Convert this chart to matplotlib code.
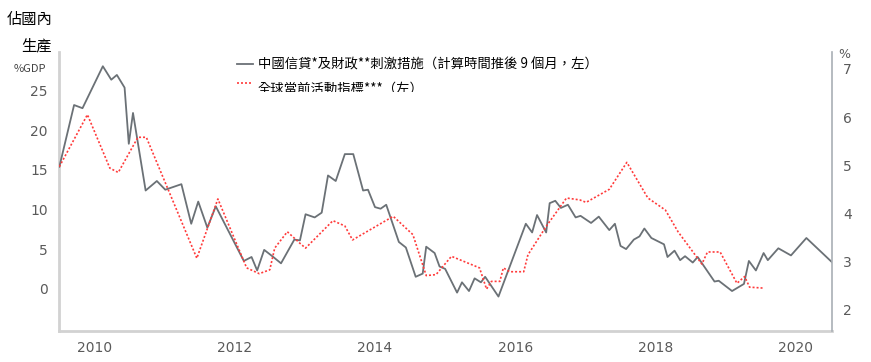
import matplotlib
matplotlib.use('Agg')
import matplotlib.pyplot as plt
from matplotlib.lines import Line2D
from matplotlib.transforms import Bbox

plt.rcParams['font.family'] = ['Noto Sans CJK TC', 'DejaVu Sans']

# 中國信貸及財政刺激措施 (左軸, %GDP)
credit_x = [2009.50, 2009.71, 2009.83, 2010.12, 2010.24, 2010.32, 2010.43, 2010.49, 2010.55,
            2010.73, 2010.89, 2011.01, 2011.24, 2011.38, 2011.48, 2011.61, 2011.73, 2012.13,
            2012.24, 2012.32, 2012.42, 2012.55, 2012.66, 2012.85, 2012.93, 2013.01, 2013.14,
            2013.24, 2013.33, 2013.44, 2013.57, 2013.69, 2013.83, 2013.90, 2014.00, 2014.08,
            2014.16, 2014.34, 2014.44, 2014.58, 2014.68, 2014.73, 2014.85, 2014.92, 2015.00,
            2015.17, 2015.24, 2015.34, 2015.42, 2015.51, 2015.57, 2015.76, 2016.15, 2016.24,
            2016.31, 2016.44, 2016.49, 2016.57, 2016.65, 2016.75, 2016.86, 2016.93, 2017.08,
            2017.19, 2017.34, 2017.42, 2017.50, 2017.58, 2017.69, 2017.77, 2017.84, 2017.94,
            2018.12, 2018.17, 2018.27, 2018.35, 2018.42, 2018.53, 2018.60, 2018.84, 2018.90,
            2019.09, 2019.26, 2019.33, 2019.43, 2019.54, 2019.60, 2019.75, 2019.93, 2020.15,
            2020.52]
credit_y = [15.4, 23.2, 22.8, 28.1, 26.4, 27.0, 25.4, 18.3, 22.2,
            12.4, 13.6, 12.5, 13.2, 8.2, 11.0, 7.7, 10.4, 3.5,
            4.0, 2.3, 4.9, 4.0, 3.2, 6.2, 6.1, 9.4, 9.0,
            9.6, 14.3, 13.6, 17.0, 17.0, 12.4, 12.5, 10.3, 10.1,
            10.6, 5.9, 5.2, 1.5, 1.9, 5.3, 4.5, 2.8, 2.5,
            -0.5, 0.8, -0.3, 1.3, 0.8, 1.5, -1.0, 8.2, 7.1,
            9.3, 7.1, 10.8, 11.1, 10.2, 10.6, 9.0, 9.2, 8.3,
            9.1, 7.4, 8.2, 5.4, 5.0, 6.2, 6.6, 7.6, 6.4,
            5.6, 4.0, 4.8, 3.6, 4.1, 3.3, 4.0, 0.9, 1.0,
            -0.3, 0.6, 3.5, 2.3, 4.5, 3.6, 5.1, 4.2, 6.4,
            3.3]

# 全球當前活動指標 (右軸, %)
activity_x = [2009.50, 2009.90, 2010.22, 2010.34, 2010.62, 2010.74, 2011.46, 2011.76, 2012.17,
              2012.35, 2012.50, 2012.57, 2012.75, 2012.93, 2013.01, 2013.40, 2013.57, 2013.68,
              2014.26, 2014.54, 2014.73, 2014.87, 2015.09, 2015.49, 2015.59, 2015.66, 2015.78,
              2015.83, 2015.92, 2016.12, 2016.18, 2016.44, 2016.73, 2016.92, 2017.01, 2017.34,
              2017.59, 2017.89, 2018.14, 2018.32, 2018.66, 2018.74, 2018.92, 2019.16, 2019.27,
              2019.34, 2019.54]
activity_y = [4.97, 6.05, 4.94, 4.85, 5.58, 5.58, 3.07, 4.30, 2.87,
              2.75, 2.83, 3.28, 3.62, 3.38, 3.28, 3.85, 3.74, 3.45,
              3.94, 3.56, 2.71, 2.73, 3.11, 2.87, 2.43, 2.59, 2.59,
              2.87, 2.79, 2.79, 3.14, 3.73, 4.32, 4.28, 4.23, 4.50,
              5.06, 4.32, 4.07, 3.62, 2.95, 3.20, 3.20, 2.55, 2.69,
              2.47, 2.45]

year_ticks = [2010, 2012, 2014, 2016, 2018, 2020]
left_ticks = [0, 5, 10, 15, 20, 25]
right_ticks = [2, 3, 4, 5, 6, 7]

label_credit = '中國信貸*及財政**刺激措施（計算時間推後 9 個月，左）'
label_activity = '全球當前活動指標***（左）'

grey = '#6b7176'
red = '#ff3b3b'
tick_color = '#5a5a5a'
tick_font = ['Liberation Sans Narrow', 'DejaVu Sans']

fig = plt.figure(figsize=(8.71, 3.62), dpi=100)
ax1 = fig.add_axes([59 / 871, 31 / 362, 773 / 871, 279 / 362])
ax2 = ax1.twinx()

ax1.plot(credit_x, credit_y, color=grey, lw=1.3, zorder=3)
ax2.plot(activity_x, activity_y, color=red, lw=1.2, ls=(0, (1.2, 1.2)), zorder=2)

ax1.set_xlim(2009.495, 2020.515)
ax1.set_ylim(-5.35, 29.9)
ax2.set_ylim(1.56, 7.35)

ax1.set_xticks(year_ticks)
ax1.set_yticks(left_ticks)
ax2.set_yticks(right_ticks)
for a in (ax1, ax2):
    a.tick_params(length=0, colors=tick_color, labelsize=10)
    for lab in a.get_xticklabels() + a.get_yticklabels():
        lab.set_family(tick_font)
ax1.tick_params(axis='y', pad=8)
ax1.tick_params(axis='x', pad=7)
ax2.tick_params(axis='y', pad=8)

for a in (ax1, ax2):
    a.spines['top'].set_visible(False)
ax1.spines['right'].set_visible(False)
ax2.spines['left'].set_visible(False)
ax2.spines['bottom'].set_visible(False)
ax1.spines['left'].set_color('#d2d2d2')
ax1.spines['left'].set_linewidth(2)
ax1.spines['bottom'].set_color('#d2d2d2')
ax1.spines['bottom'].set_linewidth(2)
ax2.spines['right'].set_color('#a9afb5')
ax2.spines['right'].set_linewidth(1.2)

# 左軸標題
fig.text(52 / 871, 1 - 19 / 362, '佔國內', ha='right', va='center', fontsize=11)
fig.text(52 / 871, 1 - 46 / 362, '生產', ha='right', va='center', fontsize=11)
fig.text(46 / 871, 1 - 69 / 362, '%GDP', ha='right', va='center', fontsize=8, color='#444444')
# 右軸單位
fig.text(838 / 871, 1 - 55 / 362, '%', ha='left', va='center', fontsize=9,
         color=tick_color, family=tick_font)

# 圖例
fig.add_artist(Line2D([237 / 871, 253 / 871], [1 - 64 / 362] * 2, color=grey, lw=1.3))
fig.add_artist(Line2D([237 / 871, 253 / 871], [1 - 83 / 362] * 2, color=red, lw=1.2,
                      ls=(0, (1.2, 1.2))))
fig.text(258 / 871, 1 - 65 / 362, label_credit, ha='left', va='center', fontsize=9.6)
t2 = fig.text(258 / 871, 1 - 89 / 362, label_activity, ha='left', va='center', fontsize=9.6)
# 第二行圖例文字在原圖下半被截去
t2.set_clip_box(fig.transFigure.transform_bbox(Bbox.from_extents(0, 1 - 92 / 362, 1, 1)))
t2.set_clip_on(True)

fig.savefig('out.png', dpi=100)
